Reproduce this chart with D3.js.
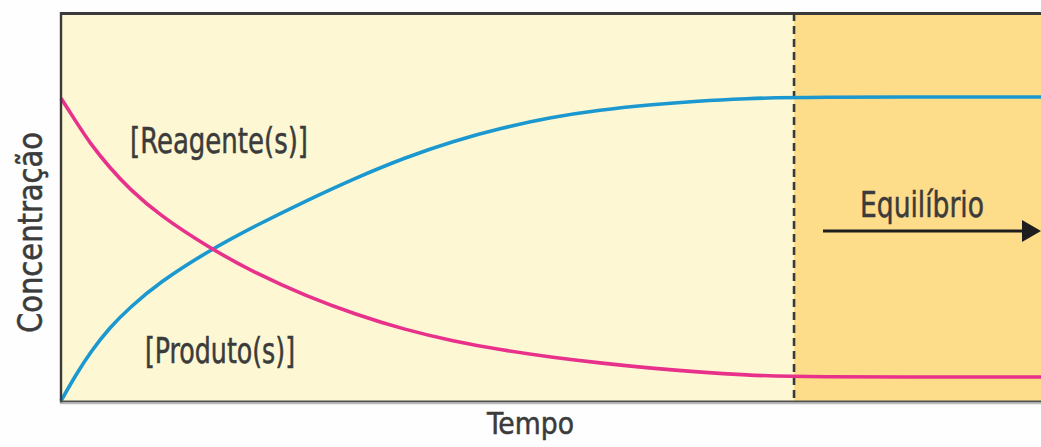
<!DOCTYPE html>
<html>
<head>
<meta charset="utf-8">
<script src="https://cdn.jsdelivr.net/npm/d3@7"></script>
<style>
  html, body { margin: 0; padding: 0; background: #fefefe; }
  svg { display: block; }
  text { font-family: 'Liberation Sans Narrow', 'DejaVu Sans Condensed', 'Roboto', sans-serif; fill: #3b3b3b; stroke: #3b3b3b; stroke-width: 0.5; }
</style>
</head>
<body>
<svg id="chart" width="1041" height="447"></svg>
<script>
// ---- data (time in arbitrary units, concentration in arbitrary units) ----
const time = [0, 1.5, 3, 5, 7, 10, 15, 20, 25, 30, 35, 40, 45, 50, 55, 60, 65, 70, 74.8, 100];
const produtos = [0.3, 6.9, 12.8, 19.2, 24.2, 30.6, 38.7, 45.4, 51.6, 57.4, 62.6, 66.9, 70.3, 73.0, 74.9, 76.2, 77.2, 77.8, 78.2, 78.2];
const reagentes = [77.9, 72.0, 66.2, 60.0, 54.6, 48.0, 39.7, 32.8, 27.2, 22.5, 18.6, 15.6, 13.3, 11.5, 10.0, 8.7, 7.7, 6.9, 6.4, 6.4];
const equilibriumTime = 74.8;
const labels = { y: "Concentração", x: "Tempo", reag: "[Reagente(s)]", prod: "[Produto(s)]", eq: "Equilíbrio" };

const svg = d3.select("#chart");
const L = 61, R = 1041, T = 13, B = 401;
const x = d3.scaleLinear().domain([0, 100]).range([L, R]);
const y = d3.scaleLinear().domain([0, 100]).range([402, 12]);

// backgrounds
svg.append("rect").attr("x", L).attr("y", T).attr("width", x(equilibriumTime) - L).attr("height", B - T).attr("fill", "#fdf8d3");
svg.append("rect").attr("x", x(equilibriumTime)).attr("y", T).attr("width", R - x(equilibriumTime)).attr("height", B - T).attr("fill", "#fddc8a");

// dashed equilibrium line
svg.append("line").attr("x1", x(equilibriumTime)).attr("x2", x(equilibriumTime)).attr("y1", T).attr("y2", B)
  .attr("stroke", "#3a3a3a").attr("stroke-width", 2.6).attr("stroke-dasharray", "8,5");

// curves
const line = d3.line().x((d, i) => x(time[i])).y(d => y(d)).curve(d3.curveBasis);
svg.append("path").datum(produtos).attr("d", line).attr("fill", "none").attr("stroke", "#1b98cf").attr("stroke-width", 3.6);
svg.append("path").datum(reagentes).attr("d", line).attr("fill", "none").attr("stroke", "#e8318b").attr("stroke-width", 3.6);

// frame
svg.append("line").attr("x1", L - 1).attr("x2", R).attr("y1", 13.5).attr("y2", 13.5).attr("stroke", "#3a3a3a").attr("stroke-width", 3);
svg.append("line").attr("x1", L).attr("x2", L).attr("y1", 12).attr("y2", 402.5).attr("stroke", "#3a3a3a").attr("stroke-width", 2.4);
svg.append("line").attr("x1", L - 1).attr("x2", R).attr("y1", 401.5).attr("y2", 401.5).attr("stroke", "#505050").attr("stroke-width", 2.2);
svg.append("line").attr("x1", L - 1).attr("x2", R).attr("y1", 403.5).attr("y2", 403.5).attr("stroke", "#bbb").attr("stroke-width", 1.5);

// labels
function label(txt, xPos, yPos, size, len) {
  return svg.append("text").attr("x", xPos).attr("y", yPos).attr("font-size", size)
    .attr("textLength", len).attr("lengthAdjust", "spacingAndGlyphs").text(txt);
}
label(labels.reag, 130, 153, 35, 178);
label(labels.prod, 145, 363, 35, 150);
label(labels.eq, 860, 217, 36, 124);
label(labels.x, 487, 434, 31, 87);
svg.append("text").attr("transform", "translate(42,333) rotate(-90)").attr("font-size", 33)
  .attr("textLength", 201).attr("lengthAdjust", "spacingAndGlyphs").text(labels.y);

// arrow
svg.append("line").attr("x1", 823).attr("x2", 1026).attr("y1", 231).attr("y2", 231).attr("stroke", "#1e1e1e").attr("stroke-width", 3);
svg.append("path").attr("d", "M1022,220 L1041,231 L1022,242 Z").attr("fill", "#1e1e1e");
</script>
</body>
</html>
